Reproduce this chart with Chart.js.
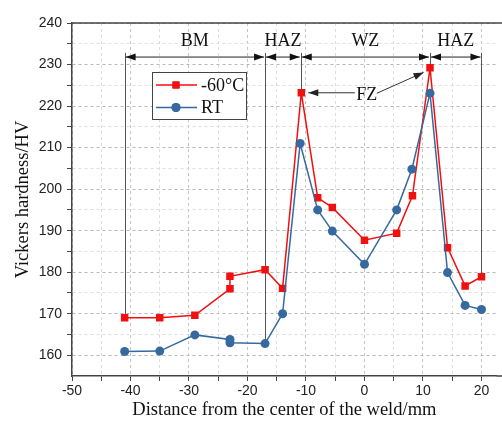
<!DOCTYPE html>
<html>
<head>
<meta charset="utf-8">
<script src="https://cdn.jsdelivr.net/npm/chart.js@4.4.1/dist/chart.umd.min.js"></script>
<style>
  body { margin: 0; background: #fff; }
  canvas { display: block; }
</style>
</head>
<body>
<canvas id="hardness-chart" width="502" height="430"></canvas>
<script>
// measured values
const coldX = [-41, -35, -29, -23, -23, -17, -14, -10.8, -8, -5.5, 0, 5.5, 8.2, 11.2, 14.2, 17.2, 20];
const coldY = [169, 169, 169.6, 176, 179, 180.6, 176.1, 223.2, 197.9, 195.6, 187.7, 189.4, 198.4, 229.2, 185.9, 176.7, 178.9];
const rtX = [-41, -35, -29, -23, -23, -17, -14, -11, -8, -5.5, 0, 5.5, 8.1, 11.2, 14.2, 17.2, 20];
const rtY = [160.9, 161, 164.9, 163.8, 163, 162.8, 170, 211, 195, 189.9, 181.9, 195, 204.8, 223.1, 179.9, 172, 171];

// zones along the weld
const zoneBounds = [-41, -17, -10.9, 11.2, 20];
const zoneEnds = [169, 162.8, 223.2, 229.2, 178.9]; // where the vertical guide stops
const zoneNames = ['BM', 'HAZ', 'WZ', 'HAZ'];

const xTicks = [-50, -45, -40, -35, -30, -25, -20, -15, -10, -5, 0, 5, 10, 15, 20];
const yTicks = [160, 165, 170, 175, 180, 185, 190, 195, 200, 205, 210, 215, 220, 225, 230, 235, 240];

const serif = "'Liberation Serif', 'Times New Roman', serif";
const sans = "'Liberation Sans', Arial, sans-serif";
const red = '#f01010';
const blue = '#36699f';

const toPoints = (xs, ys) => xs.map((x, i) => ({ x, y: ys[i] }));

function arrowHead(ctx, x, y, dir) {
  ctx.beginPath();
  ctx.moveTo(x, y);
  ctx.lineTo(x - dir * 10, y - 3.5);
  ctx.lineTo(x - dir * 10, y + 3.5);
  ctx.closePath();
  ctx.fill();
}

const zonePlugin = {
  id: 'zones',
  beforeDatasetsDraw(chart) {
    const { ctx, scales: { x, y } } = chart;
    const top = y.getPixelForValue(232.8);
    const arrowY = y.getPixelForValue(231.8);
    ctx.save();
    ctx.strokeStyle = '#555';
    ctx.fillStyle = '#111';
    ctx.lineWidth = 1;
    zoneBounds.forEach((v, i) => {
      const px = Math.round(x.getPixelForValue(v)) + 0.5;
      ctx.beginPath();
      ctx.moveTo(px, top);
      ctx.lineTo(px, y.getPixelForValue(zoneEnds[i]));
      ctx.stroke();
    });
    ctx.strokeStyle = '#222';
    for (let i = 0; i < zoneNames.length; i++) {
      const a = x.getPixelForValue(zoneBounds[i]) + 1;
      const b = x.getPixelForValue(zoneBounds[i + 1]) - 1;
      ctx.beginPath();
      ctx.moveTo(a, arrowY);
      ctx.lineTo(b, arrowY);
      ctx.stroke();
      arrowHead(ctx, a, arrowY, -1);
      arrowHead(ctx, b, arrowY, 1);
    }
    ctx.fillStyle = '#111';
    ctx.font = '18px ' + serif;
    ctx.textAlign = 'center';
    ctx.textBaseline = 'middle';
    zoneNames.forEach((name, i) => {
      const mid = (zoneBounds[i] + zoneBounds[i + 1]) / 2;
      ctx.fillText(name, x.getPixelForValue(mid), y.getPixelForValue(235.5));
    });

    // FZ callout
    const fx = x.getPixelForValue(0.4);
    const fy = y.getPixelForValue(222.6);
    ctx.fillText('FZ', fx, fy);
    ctx.strokeStyle = '#333';
    const t1x = x.getPixelForValue(-9.6), t1y = y.getPixelForValue(223.2);
    ctx.beginPath();
    ctx.moveTo(fx - 12, t1y);
    ctx.lineTo(t1x, t1y);
    ctx.stroke();
    ctx.fillStyle = '#222';
    arrowHead(ctx, t1x, t1y, -1);
    const sx = fx + 10, sy = fy - 2;
    const ex = x.getPixelForValue(10.1), ey = y.getPixelForValue(228.1);
    ctx.beginPath();
    ctx.moveTo(sx, sy);
    ctx.lineTo(ex, ey);
    ctx.stroke();
    const ang = Math.atan2(ey - sy, ex - sx);
    ctx.save();
    ctx.translate(ex, ey);
    ctx.rotate(ang);
    arrowHead(ctx, 0, 0, 1);
    ctx.restore();
    ctx.restore();
  },
  afterDatasetsDraw(chart) {
    const { ctx, chartArea: area, width } = chart;
    ctx.save();
    // frame lines run to the canvas edge
    ctx.strokeStyle = '#444';
    ctx.lineWidth = 1.5;
    ctx.beginPath();
    ctx.moveTo(area.left, area.top);
    ctx.lineTo(width, area.top);
    ctx.moveTo(area.right, area.bottom);
    ctx.lineTo(width, area.bottom);
    ctx.stroke();

    // legend box
    const bx = 152.5, by = 72.5, bw = 94, bh = 47;
    ctx.fillStyle = '#fff';
    ctx.fillRect(bx, by, bw, bh);
    ctx.strokeStyle = '#444';
    ctx.lineWidth = 1;
    ctx.strokeRect(bx, by, bw, bh);
    const rows = [
      { label: chart.data.datasets[1].label, color: red, style: 'rect', r: 5, y: 85 },
      { label: chart.data.datasets[0].label, color: blue, style: 'circle', r: 4.5, y: 107.5 }
    ];
    ctx.font = '18px ' + serif;
    ctx.textAlign = 'left';
    ctx.textBaseline = 'middle';
    rows.forEach(row => {
      ctx.strokeStyle = row.color;
      ctx.lineWidth = 1.5;
      ctx.beginPath();
      ctx.moveTo(156, row.y);
      ctx.lineTo(197, row.y);
      ctx.stroke();
      ctx.fillStyle = row.color;
      Chart.helpers.drawPoint(ctx, { pointStyle: row.style, radius: row.r, borderWidth: 0, rotation: 0 }, 176, row.y);
      ctx.fill();
      ctx.fillStyle = '#111';
      ctx.fillText(row.label, 201, row.y + 1);
    });
    ctx.restore();
  }
};

new Chart(document.getElementById('hardness-chart'), {
  type: 'line',
  data: {
    datasets: [{
      label: 'RT',
      data: toPoints(rtX, rtY),
      borderColor: blue,
      backgroundColor: blue,
      borderWidth: 1.5,
      pointStyle: 'circle',
      pointRadius: 4.5,
      pointBorderWidth: 0,
      order: 0
    }, {
      label: '-60°C',
      data: toPoints(coldX, coldY),
      borderColor: red,
      backgroundColor: red,
      borderWidth: 1.5,
      pointStyle: 'rect',
      pointRadius: 5.3,
      pointBorderWidth: 0,
      order: 1
    }]
  },
  options: {
    responsive: false,
    animation: false,
    devicePixelRatio: 1,
    layout: { padding: { top: 23, right: 0, left: 0, bottom: 0 } },
    plugins: {
      legend: { display: false },
      tooltip: { enabled: false }
    },
    scales: {
      x: {
        type: 'linear',
        min: -50,
        max: 22.6,
        afterBuildTicks: scale => { scale.ticks = xTicks.map(value => ({ value })); },
        afterFit: scale => { scale.height = 54; },
        ticks: {
          autoSkip: false,
          maxRotation: 0,
          padding: 2,
          color: '#222',
          font: { family: sans, size: 14 },
          callback: v => (v % 10 === 0 ? v : '')
        },
        grid: {
          color: c => (c.tick && c.tick.value % 10 === 0 ? '#c4c4c4' : '#dedede'),
          tickColor: '#444',
          tickLength: 5,
          lineWidth: 1
        },
        border: { color: '#444', width: 1.5, dash: [3, 3] },
        title: {
          display: true,
          text: 'Distance from the center of the weld/mm',
          color: '#111',
          font: { family: serif, size: 18.5 },
          padding: { top: 0, bottom: 9 }
        }
      },
      y: {
        type: 'linear',
        min: 155,
        max: 240,
        afterBuildTicks: scale => { scale.ticks = yTicks.map(value => ({ value })); },
        afterFit: scale => { scale.width = 72; },
        ticks: {
          autoSkip: false,
          padding: 5,
          color: '#222',
          font: { family: sans, size: 14 },
          callback: v => (v % 10 === 0 ? v : '')
        },
        grid: {
          color: c => (c.tick && c.tick.value % 10 === 0 ? '#b8b8b8' : '#dedede'),
          tickColor: '#444',
          tickLength: 5,
          lineWidth: 1
        },
        border: { color: '#444', width: 1.5, dash: [3, 3] },
        title: {
          display: true,
          text: 'Vickers hardness/HV',
          color: '#111',
          font: { family: serif, size: 18.5 },
          padding: { top: 12, bottom: 0 }
        }
      }
    }
  },
  plugins: [zonePlugin]
});
</script>
</body>
</html>
